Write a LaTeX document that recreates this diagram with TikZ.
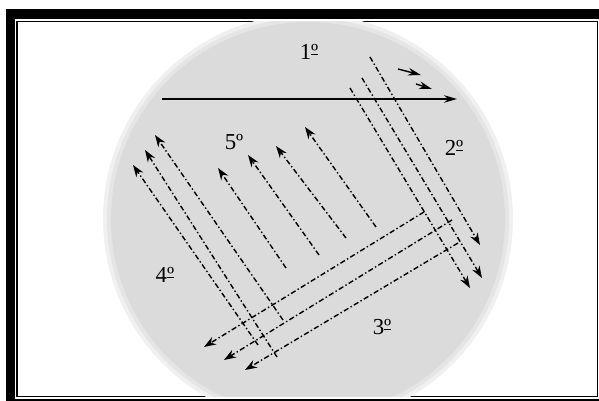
\documentclass[tikz,border=0pt]{standalone}
\usepackage{fontspec}
\setmainfont{Liberation Serif}
\usetikzlibrary{arrows.meta}
\newcommand{\ordul}{º\llap{\rule[0.42ex]{0.3em}{0.08ex}}}

\begin{document}
\begin{tikzpicture}[
    x=0.02cm, y=-0.02cm,
    flow/.style={line width=0.8pt, dash pattern=on 3pt off 1.4pt on 0.8pt off 1.4pt,
                 -{Stealth[length=2.4mm, width=1.7mm]}},
    axis/.style={line width=0.8pt, -{Stealth[length=2.6mm, width=1.5mm]}},
    lbl/.style={font=\fontsize{13}{15}\selectfont, inner sep=0pt}
]
\useasboundingbox (0,0) rectangle (599,401);
% frame
\fill (6,9) rectangle (599,401);
\fill[white] (15,19) rectangle (599,399);
\draw[line width=0.7pt] (17,21.5) rectangle (597.5,396.5);
% grey disc
\begin{scope}
\clip (17,21.5) rectangle (597.5,396.5);
\fill[black!6] (308,219) circle [radius=4.1cm];
\fill[black!10] (308,219) circle [radius=4.02cm];
\fill[black!14] (308,219) circle [radius=3.94cm];
\end{scope}
% labels
\node[lbl] (n1) at (309,52) {1\ordul};
\node[lbl] (n2) at (454,148) {2\ordul};
\node[lbl] (n3) at (382,327) {3\ordul};
\node[lbl] (n4) at (165,275) {4\ordul};
\node[lbl] (n5) at (234,142) {5º};
% end points
\coordinate (h0) at (162,99);  \coordinate (h1) at (457,99);
\coordinate (s1a) at (398,69); \coordinate (s1b) at (421,75);
\coordinate (s2a) at (416,84); \coordinate (s2b) at (432,89);
\coordinate (p1a) at (370,57); \coordinate (p1b) at (480,245);
\coordinate (p2a) at (362,78); \coordinate (p2b) at (482,278);
\coordinate (p3a) at (350,88); \coordinate (p3b) at (470,288);
\coordinate (q4a) at (286,268); \coordinate (q4b) at (218,168);
\coordinate (q5a) at (319,255); \coordinate (q5b) at (248,155);
\coordinate (q6a) at (346,238); \coordinate (q6b) at (276,146);
\coordinate (q7a) at (376,227); \coordinate (q7b) at (305,127);
\coordinate (r1a) at (258,345); \coordinate (r1b) at (133,165);
\coordinate (r2a) at (277,357); \coordinate (r2b) at (145,150);
\coordinate (r3a) at (283,320); \coordinate (r3b) at (155,135);
\coordinate (t1a) at (424,212); \coordinate (t1b) at (204,347);
\coordinate (t2a) at (452,220); \coordinate (t2b) at (224,360);
\coordinate (t3a) at (458,243); \coordinate (t3b) at (245,370);
% 1st
\draw[axis] (h0) -- (h1);
\draw[axis] (s1a) -- (s1b);
\draw[axis] (s2a) -- (s2b);
% 2nd
\draw[flow] (p1a) -- (p1b);
\draw[flow] (p2a) -- (p2b);
\draw[flow] (p3a) -- (p3b);
% 5th
\draw[flow] (q4a) -- (q4b);
\draw[flow] (q5a) -- (q5b);
\draw[flow] (q6a) -- (q6b);
\draw[flow] (q7a) -- (q7b);
% 4th
\draw[flow] (r1a) -- (r1b);
\draw[flow] (r2a) -- (r2b);
\draw[flow] (r3a) -- (r3b);
% 3rd
\draw[flow] (t1a) -- (t1b);
\draw[flow] (t2a) -- (t2b);
\draw[flow] (t3a) -- (t3b);
\end{tikzpicture}
\end{document}
